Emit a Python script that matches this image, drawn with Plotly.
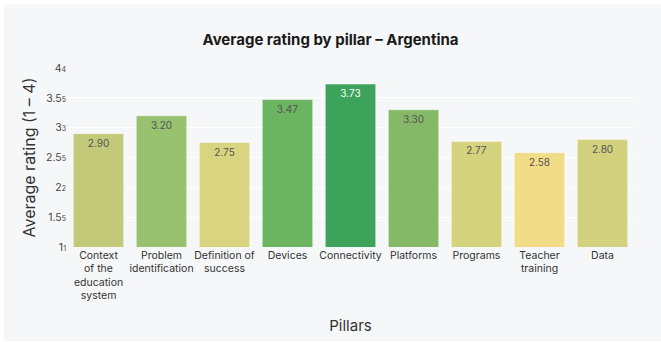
import plotly.graph_objects as go

# Pillar ratings for Argentina
pillars = [
    "Context<br>of the<br>education<br>system",
    "Problem<br>identification",
    "Definition of<br>success",
    "Devices",
    "Connectivity",
    "Platforms",
    "Programs",
    "Teacher<br>training",
    "Data",
]
ratings = [2.90, 3.20, 2.75, 3.47, 3.73, 3.30, 2.77, 2.58, 2.80]

y_tick_values = [1, 1.5, 2, 2.5, 3, 3.5, 4]
y_tick_labels = ["1", "1.5", "2", "2.5", "3", "3.5", "4"]

W, H = 661, 342
ML, MR, MT, MB = 67, 27, 68, 95
BG = "#f6f7f9"

# yellow -> green scale spread over the observed rating span
scale = [
    [0.0, "#f2dc88"],
    [0.15, "#d9d480"],
    [0.28, "#c2ca7a"],
    [0.54, "#98c170"],
    [0.62, "#86b867"],
    [0.77, "#6db560"],
    [1.0, "#3da35a"],
]
lo, hi = min(ratings), max(ratings)
label_colors = ["#ffffff" if r >= 3.6 else "#555555" for r in ratings]

fig = go.Figure(
    go.Bar(
        x=pillars,
        y=ratings,
        base=0,
        marker=dict(
            color=ratings,
            colorscale=scale,
            cmin=lo,
            cmax=hi,
            line=dict(color="rgba(255,255,255,0.45)", width=1),
        ),
        text=[f"{r:.2f}" for r in ratings],
        textposition="inside",
        insidetextanchor="end",
        textangle=0,
        textfont=dict(size=10, color=label_colors, family="Inter"),
        hoverinfo="skip",
    )
)

pw = W - ML - MR
ph = H - MT - MB
fig.add_shape(
    type="rect",
    xref="paper",
    yref="paper",
    x0=(4 - ML) / pw,
    x1=(W - ML) / pw,
    y0=-(H - 1 - MT - ph) / ph,
    y1=(MT + ph - 4) / ph,
    fillcolor=BG,
    line=dict(width=0),
    layer="below",
)

fig.update_layout(
    width=W,
    height=H,
    margin=dict(l=ML, r=MR, t=MT, b=MB, autoexpand=False),
    paper_bgcolor="white",
    plot_bgcolor=BG,
    bargap=0.2,
    font=dict(family="Inter, sans-serif", color="#333333"),
    title=dict(
        text="<b>Average rating by pillar – Argentina</b>",
        x=0.5,
        xanchor="center",
        y=1 - 40 / H,
        yanchor="middle",
        font=dict(size=15, color="#1a1a1a"),
        automargin=False,
    ),
    showlegend=False,
)

fig.update_xaxes(
    title=dict(text="Pillars", font=dict(size=15, color="#333333"), standoff=19),
    tickfont=dict(size=10.5, color="#333333"),
    tickangle=0,
    automargin=False,
    showgrid=False,
    showline=False,
    ticks="",
)
fig.update_yaxes(
    title=dict(text="Average rating (1 – 4)", font=dict(size=16, color="#333333"), standoff=6),
    range=[1, 4],
    tickvals=y_tick_values,
    ticktext=[f"{t}<span style='font-size:7px'>{t[-1]}</span>" for t in y_tick_labels],
    tickfont=dict(size=10.5, color="#444444"),
    automargin=False,
    gridcolor="#ffffff",
    gridwidth=1,
    zeroline=False,
    showline=False,
    ticks="",
)

fig.write_html("out.html")
